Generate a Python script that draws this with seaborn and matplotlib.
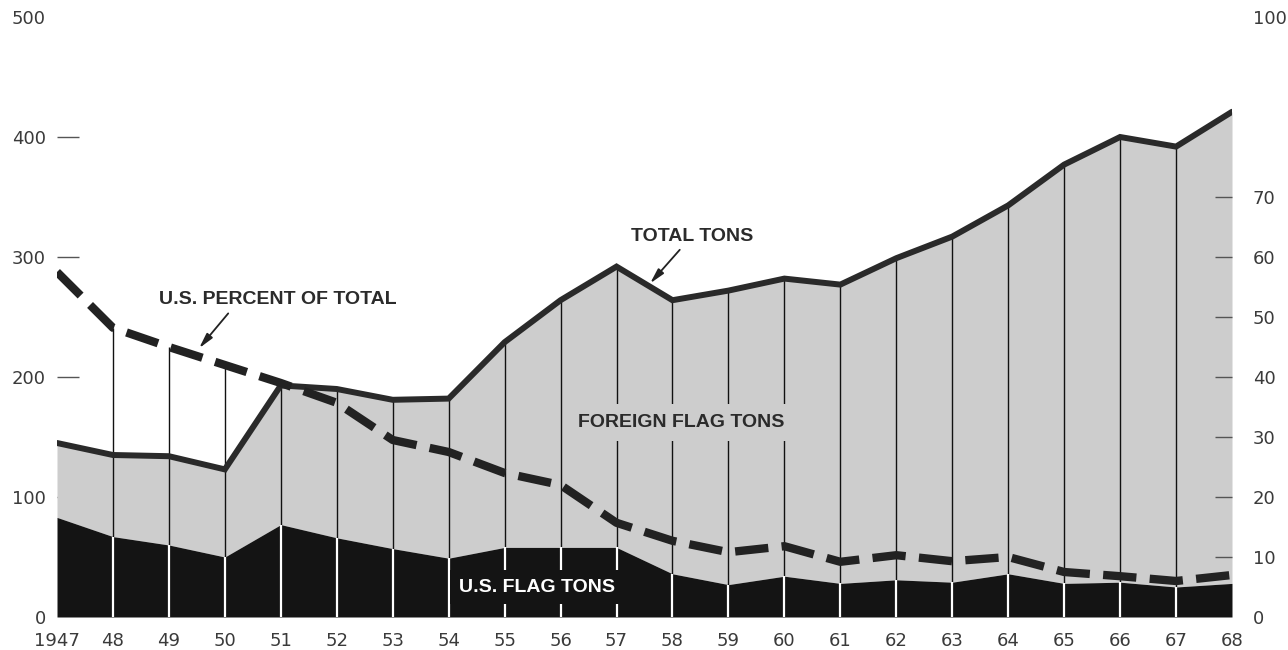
import matplotlib
matplotlib.use('Agg')
import matplotlib.pyplot as plt
import seaborn as sns
import pandas as pd

# values (millions of tons / percent)
years = list(range(1947, 1969))
total_tons = [145, 135, 134, 123, 193, 190, 181, 182, 229, 264, 292,
              264, 272, 282, 277, 299, 317, 343, 377, 400, 392, 421]
us_flag_tons = [83, 67, 60, 50, 77, 66, 57, 49, 58, 58, 58,
                36, 27, 34, 28, 31, 29, 36, 28, 29, 25, 28]
us_percent = [57.5, 48.2, 45, 42, 39, 35.7, 29.5, 27.5, 24, 22, 15.7,
              12.7, 10.8, 11.8, 9.2, 10.3, 9.3, 10, 7.5, 6.8, 6, 7]
x_labels = ['1947'] + [str(y)[2:] for y in years[1:]]
left_ticks = [0, 100, 200, 300, 400, 500]
right_ticks = [0, 10, 20, 30, 40, 50, 60, 70, 100]

df = pd.DataFrame({'year': years, 'total': total_tons,
                   'us': us_flag_tons, 'pct': us_percent})

GREY = '#cdcdcd'
BLACK = '#141414'
INK = '#2b2b2b'
TICK_TXT = '#3a3a3a'

sns.set_style('white')
plt.rcParams['font.family'] = ['DejaVu Sans']

fig = plt.figure(figsize=(12.88, 6.5), dpi=100)
ax = fig.add_axes([57 / 1288, 33 / 650, 1175 / 1288, 600 / 650])
ax2 = ax.twinx()

# areas
ax.fill_between(df['year'], df['us'], df['total'], color=GREY, lw=0, zorder=1)
ax.fill_between(df['year'], 0, df['us'], color=BLACK, lw=0, zorder=2)

# vertical year rules: black above the US flag area, white inside it
inner = df.iloc[1:-1]
top = [max(t, p * 5) for t, p in zip(inner['total'], inner['pct'])]
ax.vlines(inner['year'], inner['us'], top, color='#111111', lw=1.0, zorder=3)
ax.vlines(inner['year'], 0, inner['us'], color='white', lw=1.6, zorder=3)

sns.lineplot(data=df, x='year', y='total', ax=ax, color='#2a2a2a', lw=4.3,
             solid_joinstyle='miter', zorder=4)
sns.lineplot(data=df, x='year', y='pct', ax=ax2, color='#222222', lw=6,
             linestyle=(0, (4, 1.6)), dash_capstyle='butt', zorder=5)

ax.set_xlim(1947, 1968)
ax.set_ylim(0, 500)
ax2.set_ylim(0, 100)
for a in (ax, ax2):
    a.set_xlabel('')
    a.set_ylabel('')
    for s in a.spines.values():
        s.set_visible(False)
    a.grid(False)

ax.set_xticks(years)
ax.set_xticklabels(x_labels)
ax.tick_params(axis='x', length=0, pad=11, labelsize=13, labelcolor=TICK_TXT)

ax.set_yticks(left_ticks)
ax.tick_params(axis='y', direction='in', length=16, width=1.0, color='#555555',
               pad=8, labelsize=13, labelcolor=TICK_TXT)
for i in (0, -1):
    ax.yaxis.get_major_ticks()[i].tick1line.set_visible(False)

ax2.set_yticks(right_ticks)
ax2.tick_params(axis='y', direction='in', length=12, width=1.0, color='#555555',
                pad=15, labelsize=13, labelcolor=TICK_TXT)
for i in (0, -1):
    ax2.yaxis.get_major_ticks()[i].tick2line.set_visible(False)

# labels
lab = dict(family=['Liberation Sans', 'DejaVu Sans'], weight='bold',
           fontsize=14, ha='center', va='center', zorder=6)
ax.text(1958.35, 317, 'TOTAL TONS', color=INK, **lab)
ax.text(1950.95, 265, 'U.S. PERCENT OF TOTAL', color=INK, **lab)
ax.text(1958.15, 162, 'FOREIGN FLAG TONS', color=INK,
        bbox=dict(boxstyle='square,pad=0.5', fc=GREY, ec='none'), **lab)
ax.text(1955.58, 25, 'U.S. FLAG TONS', color='white',
        bbox=dict(boxstyle='square,pad=0.45', fc=BLACK, ec='none'), **lab)

arrow = dict(arrowstyle='-|>,head_length=0.9,head_width=0.22',
             color='#222222', lw=1.3, shrinkA=0, shrinkB=0)
ax.annotate('', xy=(1957.6, 278), xytext=(1958.13, 306), arrowprops=arrow,
            zorder=6)
ax.annotate('', xy=(1949.54, 224), xytext=(1950.06, 253), arrowprops=arrow,
            zorder=6)

fig.savefig('out.png', dpi=100)
